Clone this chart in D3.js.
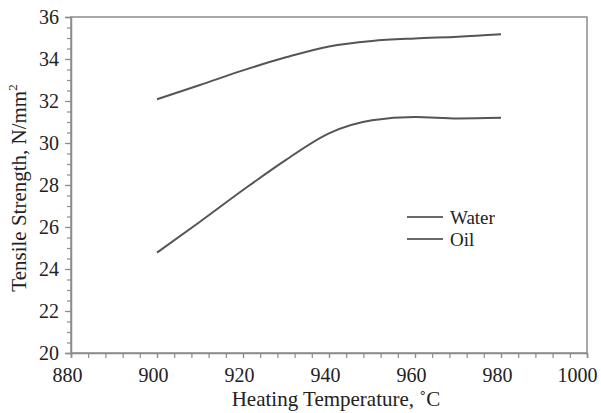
<!DOCTYPE html>
<html>
<head>
<meta charset="utf-8">
<script src="https://cdn.jsdelivr.net/npm/d3@7"></script>
<style>
  body { margin: 0; background: #fff; }
  svg { font-family: "Liberation Serif", "Times New Roman", serif; }
</style>
</head>
<body>
<svg id="chart"></svg>
<script>
const temps = [900, 910, 920, 930, 940, 950, 960, 970, 980];
const water = [32.08, 32.76, 33.46, 34.08, 34.6, 34.86, 34.98, 35.06, 35.18];
const oil = [24.78, 26.25, 27.76, 29.2, 30.46, 31.08, 31.24, 31.17, 31.2];
const seriesNames = ["Water", "Oil"];
const xTicks = [880, 900, 920, 940, 960, 980, 1000];
const yTicks = [20, 22, 24, 26, 28, 30, 32, 34, 36];

const width = 601, height = 413;
const margin = {top: 17, right: 14, bottom: 60, left: 71};
const axisColor = "#8c8c8c";
const lineColor = "#555";
const textColor = "#222";

const svg = d3.select("#chart")
  .attr("width", width)
  .attr("height", height);

const x = d3.scaleLinear()
  .domain([880, 1000])
  .range([margin.left, width - margin.right]);

const y = d3.scaleLinear()
  .domain([20, 36])
  .range([height - margin.bottom, margin.top]);

// frame (top and right sides)
svg.append("rect")
  .attr("x", x(880))
  .attr("y", y(36))
  .attr("width", x(1000) - x(880))
  .attr("height", y(20) - y(36))
  .attr("fill", "none")
  .attr("stroke", axisColor)
  .attr("stroke-width", 1.5);

// minor ticks
const xMinor = d3.range(880, 1000.1, 4);
const yMinor = d3.range(20, 36.01, 0.5);

svg.append("g")
  .attr("transform", `translate(0,${y(20)})`)
  .call(d3.axisBottom(x).tickValues(xMinor).tickSize(5).tickFormat(""))
  .call(g => g.select(".domain").remove())
  .call(g => g.selectAll("line").attr("stroke", axisColor).attr("stroke-width", 1.2));

svg.append("g")
  .attr("transform", `translate(${x(880)},0)`)
  .call(d3.axisLeft(y).tickValues(yMinor).tickSize(4).tickFormat(""))
  .call(g => g.select(".domain").remove())
  .call(g => g.selectAll("line").attr("stroke", axisColor).attr("stroke-width", 1.2));

// major axes with labels
svg.append("g")
  .attr("transform", `translate(0,${y(20)})`)
  .call(d3.axisBottom(x).tickValues(xTicks).tickSize(5).tickPadding(10).tickFormat(d3.format("d")))
  .call(g => g.select(".domain").attr("stroke", axisColor).attr("stroke-width", 1.5))
  .call(g => g.selectAll("line").attr("stroke", axisColor).attr("stroke-width", 1.2))
  .call(g => g.selectAll("text")
    .attr("fill", textColor)
    .attr("dx", -4)
    .style("font-size", "20px")
    .style("font-family", "Liberation Serif"))
  .call(g => g.selectAll("text").filter(d => d === 1000)
    .attr("text-anchor", "end")
    .attr("dx", 597 - x(1000)));

svg.append("g")
  .attr("transform", `translate(${x(880)},0)`)
  .call(d3.axisLeft(y).tickValues(yTicks).tickSize(6).tickPadding(6))
  .call(g => g.select(".domain").attr("stroke", axisColor).attr("stroke-width", 1.5))
  .call(g => g.selectAll("line").attr("stroke", axisColor).attr("stroke-width", 1.2))
  .call(g => g.selectAll("text")
    .attr("fill", textColor)
    .style("font-size", "20px")
    .style("font-family", "Liberation Serif"));

// axis titles
svg.append("text")
  .attr("x", 336)
  .attr("y", 406)
  .attr("text-anchor", "middle")
  .attr("fill", textColor)
  .style("font-size", "21px")
  .text("Heating Temperature, \u02DAC");

const yTitle = svg.append("text")
  .attr("transform", `translate(26,${(y(20) + y(36)) / 2 + 3}) rotate(-90)`)
  .attr("text-anchor", "middle")
  .attr("fill", textColor)
  .style("font-size", "21px");
yTitle.append("tspan").text("Tensile Strength, N/mm");
yTitle.append("tspan").attr("dy", -9).style("font-size", "13px").text("2");

// curves
const line = d3.line()
  .x((d, i) => x(temps[i]))
  .y(d => y(d))
  .curve(d3.curveMonotoneX);

[water, oil].forEach(s => {
  svg.append("path")
    .datum(s)
    .attr("fill", "none")
    .attr("stroke", lineColor)
    .attr("stroke-width", 2)
    .attr("d", line);
});

// legend
const legend = svg.append("g")
  .attr("transform", "translate(407,217)");

seriesNames.forEach((name, i) => {
  const row = legend.append("g").attr("transform", `translate(0,${i * 22})`);
  row.append("line")
    .attr("x1", 0).attr("x2", 36)
    .attr("stroke", "#6a6a6a")
    .attr("stroke-width", 2);
  row.append("text")
    .attr("x", 43)
    .attr("dy", "0.35em")
    .attr("fill", textColor)
    .style("font-size", "19px")
    .text(name);
});
</script>
</body>
</html>
